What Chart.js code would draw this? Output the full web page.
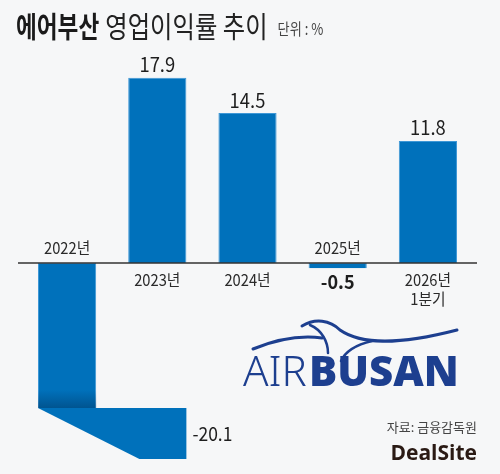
<!DOCTYPE html>
<html>
<head>
<meta charset="utf-8">
<script src="https://cdn.jsdelivr.net/npm/chart.js@4"></script>
<style>
  html, body { margin: 0; padding: 0; background: #f6f7f8; }
  #wrap { width: 500px; height: 474px; position: relative; }
</style>
</head>
<body>
<div id="wrap"><canvas id="margin"></canvas></div>
<script>
// data
const years = ["2022년", "2023년", "2024년", "2025년", "2026년"];
const yearSub = ["", "", "", "", "1분기"];
const margins = [-20.1, 17.9, 14.5, -0.5, 11.8];

const FONT = "'Noto Sans CJK KR', 'Noto Sans', sans-serif";
const BLUE = "#0071bb";
const NAVY = "#1d3f8f";

// condensed text helper
function narrowText(ctx, txt, x, y, sx) {
  ctx.save();
  ctx.translate(x, y);
  ctx.scale(sx, 1);
  ctx.fillText(txt, 0, 0);
  ctx.restore();
}

// zero line, folded 2022 bar, labels, logo
const decor = {
  id: "decor",
  afterDatasetsDraw(chart) {
    const ctx = chart.ctx;
    const area = chart.chartArea;
    const y = chart.scales.y;
    const bars = chart.getDatasetMeta(0).data;
    const zero = y.getPixelForValue(0);

    // folded part of the 2022 bar (runs off the bottom of the plot)
    const b0 = bars[0];
    const l = b0.x - b0.width / 2;
    const r = bars[1].x + bars[1].width / 2;
    const bottom = area.bottom;
    const shade = ctx.createLinearGradient(0, bottom - 18, 0, bottom);
    shade.addColorStop(0, "rgba(0,40,80,0)");
    shade.addColorStop(1, "rgba(0,40,80,0.4)");
    ctx.save();
    ctx.fillStyle = shade;
    ctx.fillRect(l, bottom - 18, b0.width, 18);
    ctx.fillStyle = BLUE;
    ctx.beginPath();
    ctx.moveTo(l, bottom);
    ctx.lineTo(r, bottom);
    ctx.lineTo(r, bottom + 51);
    ctx.lineTo(r - 47, bottom + 51);
    ctx.closePath();
    ctx.fill();
    ctx.restore();

    // zero line
    ctx.save();
    ctx.strokeStyle = "#333";
    ctx.lineWidth = 1.5;
    ctx.beginPath();
    ctx.moveTo(area.left - 4, zero);
    ctx.lineTo(area.right + 4, zero);
    ctx.stroke();

    ctx.textAlign = "center";
    ctx.textBaseline = "middle";
    bars.forEach((bar, i) => {
      const v = margins[i];
      ctx.fillStyle = "#2a2a2a";
      ctx.font = "16px " + FONT;
      if (v >= 0) {
        narrowText(ctx, years[i], bar.x, zero + 17, 0.92);
        if (yearSub[i]) narrowText(ctx, yearSub[i], bar.x, zero + 36, 0.92);
        ctx.fillStyle = "#1e1e1e";
        ctx.font = "20px " + FONT;
        narrowText(ctx, v.toFixed(1), bar.x, bar.y - 13, 0.92);
      } else {
        narrowText(ctx, years[i], bar.x, zero - 15, 0.92);
        ctx.fillStyle = "#1e1e1e";
        if (i === 0) {
          ctx.font = "19px " + FONT;
          ctx.textAlign = "left";
          narrowText(ctx, v.toFixed(1), r + 6, bottom + 26, 0.92);
          ctx.textAlign = "center";
        } else {
          ctx.font = "bold 19px " + FONT;
          narrowText(ctx, v.toFixed(1), bar.x, bar.y + 14, 0.95);
        }
      }
    });
    ctx.restore();
  },
  afterDraw(chart) {
    const ctx = chart.ctx;
    ctx.save();
    // title (condensed)
    ctx.textBaseline = "alphabetic";
    ctx.textAlign = "left";
    ctx.fillStyle = "#1a1a1a";
    ctx.font = "bold 29px " + FONT;
    narrowText(ctx, "에어부산", 16, 38, 0.78);
    let x = 16 + ctx.measureText("에어부산").width * 0.78 + 6;
    ctx.font = "29px " + FONT;
    ctx.fillStyle = "#222";
    narrowText(ctx, "영업이익률 추이", x, 38, 0.84);
    x += ctx.measureText("영업이익률 추이").width * 0.84 + 10;
    ctx.font = "16px " + FONT;
    ctx.fillStyle = "#444";
    narrowText(ctx, "단위 : %", x, 35, 0.82);

    // AIR BUSAN logo
    ctx.fillStyle = NAVY;
    ctx.font = "300 42px 'Noto Sans', " + FONT;
    ctx.fillText("AIR", 243, 386);
    ctx.font = "900 42px 'Noto Sans', " + FONT;
    ctx.fillText("BUSAN", 309, 386);
    ctx.strokeStyle = NAVY;
    ctx.lineCap = "round";
    ctx.lineWidth = 3;
    ctx.beginPath();
    ctx.moveTo(253, 349);
    ctx.bezierCurveTo(275, 340, 300, 335, 322, 338);
    ctx.stroke();
    ctx.beginPath();
    ctx.moveTo(302, 326);
    ctx.bezierCurveTo(315, 318, 330, 320, 340, 330);
    ctx.bezierCurveTo(360, 344, 395, 346, 457, 330);
    ctx.stroke();
    ctx.lineWidth = 2.5;
    ctx.beginPath();
    ctx.moveTo(310, 325);
    ctx.bezierCurveTo(322, 330, 328, 342, 328, 353);
    ctx.stroke();
    ctx.beginPath();
    ctx.moveTo(372, 341);
    ctx.bezierCurveTo(355, 345, 345, 352, 341, 361);
    ctx.stroke();

    // source + brand
    ctx.textAlign = "right";
    ctx.fillStyle = "#444";
    ctx.font = "13px " + FONT;
    ctx.fillText("자료: 금융감독원", 477, 432);
    ctx.fillStyle = "#2a1a14";
    ctx.font = "bold 21px 'Open Sans', " + FONT;
    ctx.fillText("DealSite", 477, 460);
    ctx.restore();
  }
};

new Chart(document.getElementById("margin"), {
  type: "bar",
  data: {
    labels: years,
    datasets: [
      {
        data: margins,
        backgroundColor: BLUE,
        borderColor: "#3d97d6",
        borderWidth: { left: 1, right: 1, top: 1, bottom: 0 },
        borderSkipped: false,
        barPercentage: 1,
        categoryPercentage: 0.645
      }
    ]
  },
  options: {
    responsive: true,
    maintainAspectRatio: false,
    animation: false,
    layout: { padding: { left: 22, right: 27, top: 56, bottom: 66 } },
    plugins: {
      legend: { display: false },
      tooltip: { enabled: false }
    },
    scales: {
      x: { display: false },
      y: { display: false, min: -14, max: 20 }
    }
  },
  plugins: [decor]
});
</script>
</body>
</html>
